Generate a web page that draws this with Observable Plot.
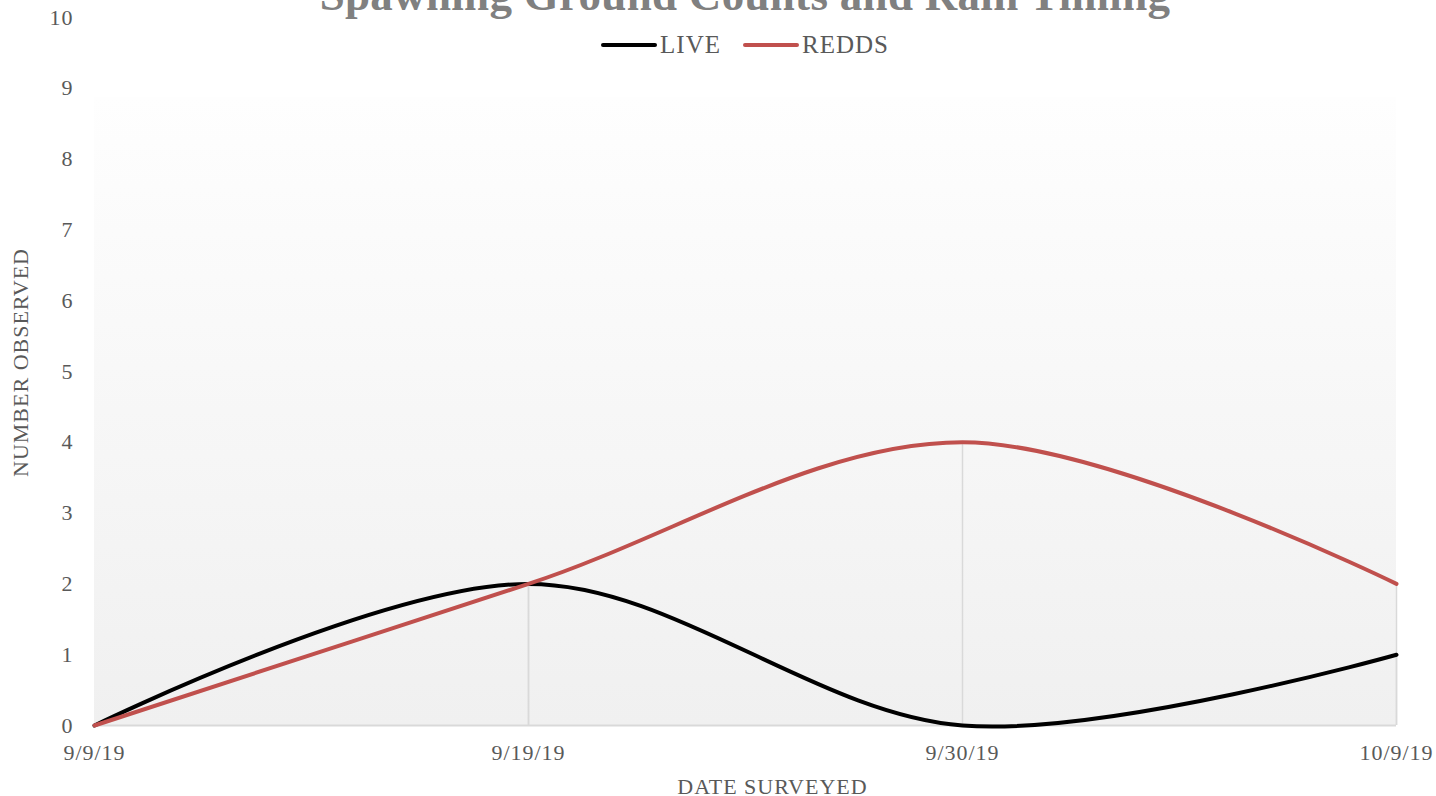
<!DOCTYPE html>
<html>
<head>
<meta charset="utf-8">
<script src="https://cdn.jsdelivr.net/npm/d3@7"></script>
<script src="https://cdn.jsdelivr.net/npm/@observablehq/plot@0.6"></script>
<style>
  html, body { margin: 0; padding: 0; background: #ffffff; overflow: hidden; }
  #wrap { position: relative; width: 1436px; height: 796px; }
  #title {
    position: absolute; left: 0; width: 1490px; top: -27px;
    text-align: center; font-family: "Liberation Serif", serif; font-weight: bold;
    font-size: 45px; line-height: 45px; color: #808080; white-space: nowrap; letter-spacing: 0.3px;
  }
  #legend {
    position: absolute; left: 0; width: 1490px; top: 31px;
    display: flex; justify-content: center; align-items: center;
    font-family: "Liberation Serif", serif; font-size: 25px; letter-spacing: 1px; color: #595959; line-height: 28px;
  }
  #legend .item { display: flex; align-items: center; margin: 0 11px; }
  #legend svg { margin-right: 3px; }
  #chart { position: absolute; left: 0; top: 0; }
</style>
</head>
<body>
<div id="wrap">
  <div id="chart"></div>
  <div id="title">Spawning Ground Counts and Rain Timing</div>
  <div id="legend"></div>
</div>
<script>
// ---- data ----
const dates = ["9/9/19", "9/19/19", "9/30/19", "10/9/19"];
const seriesNames = ["LIVE", "REDDS"];
const liveValues = [0, 2, 0, 1];
const reddsValues = [0, 2, 4, 2];
const yTicks = [0, 1, 2, 3, 4, 5, 6, 7, 8, 9, 10];
const seriesColors = ["#000000", "#c0504d"];

// plot-area background top (in data units)
const plotAreaTop = 8.87;

const rows = [];
dates.forEach((d, i) => {
  rows.push({date: d, series: "LIVE", value: liveValues[i]});
  rows.push({date: d, series: "REDDS", value: reddsValues[i]});
});

const fontFamily = "'Liberation Serif', serif";

const chart = Plot.plot({
  width: 1436,
  height: 796,
  marginLeft: 94,
  marginRight: 40,
  marginTop: 17,
  marginBottom: 71,
  style: {fontFamily, fontSize: "22px", letterSpacing: "1px", color: "#595959", background: "transparent", overflow: "visible"},
  x: {type: "point", domain: dates, padding: 0},
  y: {domain: [0, 10]},
  color: {domain: seriesNames, range: seriesColors},
  marks: [
    Plot.areaY(dates, {x: d => d, y1: 0, y2: () => plotAreaTop, fill: "url(#bgGrad)"}),
    Plot.ruleX(rows, {x: "date", y1: 0, y2: "value", stroke: "#d9d9d9", strokeWidth: 1.5}),
    Plot.ruleY([0], {stroke: "#d9d9d9", strokeWidth: 2}),
    Plot.line(rows, {x: "date", y: "value", z: "series", stroke: "series", curve: "catmull-rom", strokeWidth: 4, strokeLinecap: "round"}),
    Plot.axisY({ticks: yTicks, tickSize: 0, tickPadding: 21, label: null, tickFormat: d => String(d)}),
    Plot.axisX({tickSize: 0, tickPadding: 19, label: null}),
    Plot.text(["NUMBER OBSERVED"], {text: d => d, frameAnchor: "left", textAnchor: "middle", lineAnchor: "middle", rotate: -90, dx: -74, dy: -9, fill: "#595959", fontSize: 22}),
    Plot.text(["DATE SURVEYED"], {text: d => d, frameAnchor: "bottom", textAnchor: "middle", lineAnchor: "middle", dx: 27, dy: 61, fill: "#595959", fontSize: 22})
  ]
});

d3.select(chart).insert("defs", ":first-child").html(
  `<linearGradient id="bgGrad" x1="0" y1="0" x2="0" y2="1">
     <stop offset="0" stop-color="#fefefe"/>
     <stop offset="1" stop-color="#f0f0f0"/>
   </linearGradient>`
);

document.getElementById("chart").appendChild(chart);

// legend
const legend = d3.select("#legend");
seriesNames.forEach((name, i) => {
  const item = legend.append("div").attr("class", "item");
  const sw = item.append("svg").attr("width", 56).attr("height", 10);
  sw.append("line").attr("x1", 2).attr("x2", 54).attr("y1", 5).attr("y2", 5)
    .attr("stroke", seriesColors[i]).attr("stroke-width", 4).attr("stroke-linecap", "round");
  item.append("span").text(name);
});
</script>
</body>
</html>
